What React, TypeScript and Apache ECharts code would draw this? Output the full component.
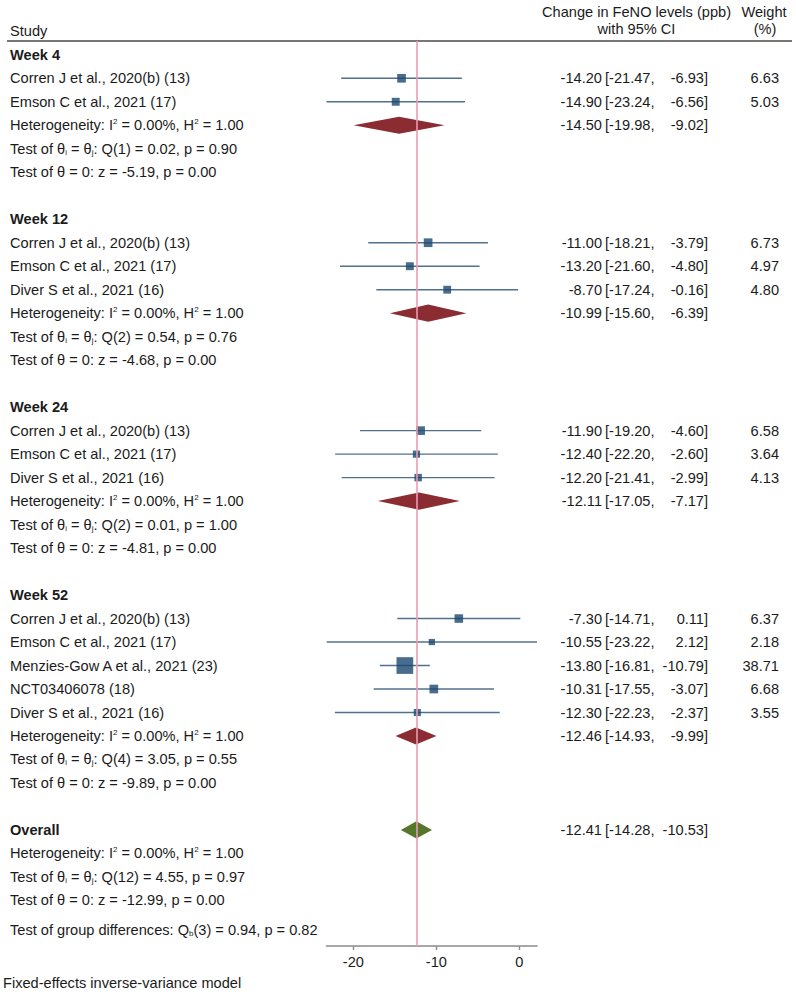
import React, { useEffect, useRef } from 'react';
import * as echarts from 'echarts';

// ---------- data ----------
const groupNames = ['Week 4', 'Week 12', 'Week 24', 'Week 52'];
const groupRows = [0, 7, 15, 23];

const studyNames = [
  'Corren J et al., 2020(b) (13)',
  'Emson C et al., 2021 (17)',
  'Corren J et al., 2020(b) (13)',
  'Emson C et al., 2021 (17)',
  'Diver S et al., 2021 (16)',
  'Corren J et al., 2020(b) (13)',
  'Emson C et al., 2021 (17)',
  'Diver S et al., 2021 (16)',
  'Corren J et al., 2020(b) (13)',
  'Emson C et al., 2021 (17)',
  'Menzies-Gow A et al., 2021 (23)',
  'NCT03406078 (18)',
  'Diver S et al., 2021 (16)',
];
const studyRows = [1, 2, 8, 9, 10, 16, 17, 18, 24, 25, 26, 27, 28];
const studyEst = [-14.2, -14.9, -11.0, -13.2, -8.7, -11.9, -12.4, -12.2, -7.3, -10.55, -13.8, -10.31, -12.3];
const studyLow = [-21.47, -23.24, -18.21, -21.6, -17.24, -19.2, -22.2, -21.41, -14.71, -23.22, -16.81, -17.55, -22.23];
const studyHigh = [-6.93, -6.56, -3.79, -4.8, -0.16, -4.6, -2.6, -2.99, 0.11, 2.12, -10.79, -3.07, -2.37];
const studyWeight = ['6.63', '5.03', '6.73', '4.97', '4.80', '6.58', '3.64', '4.13', '6.37', '2.18', '38.71', '6.68', '3.55'];

const pooledRows = [3, 11, 19, 29];
const pooledEst = [-14.5, -10.99, -12.11, -12.46];
const pooledLow = [-19.98, -15.6, -17.05, -14.93];
const pooledHigh = [-9.02, -6.39, -7.17, -9.99];

const overallLabel = 'Overall';
const overallRow = 33;
const overallEst = -12.41;
const overallLow = -14.28;
const overallHigh = -10.53;

// heterogeneity / test statistics: Week 4, 12, 24, 52, Overall
const hetRows = [3, 11, 19, 29, 34];
const hetI2 = ['0.00%', '0.00%', '0.00%', '0.00%', '0.00%'];
const hetH2 = ['1.00', '1.00', '1.00', '1.00', '1.00'];
const qDf = ['1', '2', '2', '4', '12'];
const qVal = ['0.02', '0.54', '0.01', '3.05', '4.55'];
const qP = ['0.90', '0.76', '1.00', '0.55', '0.97'];
const zVal = ['-5.19', '-4.68', '-4.81', '-9.89', '-12.99'];
const zP = ['0.00', '0.00', '0.00', '0.00', '0.00'];

const groupDiffRow = 37.26;
const groupDiffDf = '3';
const groupDiffQ = '0.94';
const groupDiffP = '0.82';

const xTicks = [-20, -10, 0];
const xMin = -23.24;
const xMax = 2.12;

// ---------- style ----------
const FONT = '"Liberation Sans", Arial, Helvetica, sans-serif';
const FS = 14.6;
const TEXT = '#1b1b1b';
const NAVY = '#1a476f';
const CI_COLOR = '#52708e';
const MAROON = '#8b2b32';
const GREEN = '#56762c';
const PINK = '#ec9cb0';

const RICH = {
  sup: { fontSize: 8, fontFamily: FONT, fill: TEXT, color: TEXT, verticalAlign: 'top' },
  sub: { fontSize: 8, fontFamily: FONT, fill: TEXT, color: TEXT, verticalAlign: 'bottom' },
};

type TextItem = { row: number; text: string; x: number; align: 'left' | 'right' | 'center'; bold?: boolean };

function fmt(v: number) {
  return v.toFixed(2);
}

const textItems: TextItem[] = [];
groupNames.forEach((g, i) => textItems.push({ row: groupRows[i], text: g, x: 10, align: 'left', bold: true }));
textItems.push({ row: overallRow, text: overallLabel, x: 10, align: 'left', bold: true });
studyNames.forEach((n, i) => textItems.push({ row: studyRows[i], text: n, x: 10, align: 'left' }));
hetRows.forEach((r, i) => {
  textItems.push({ row: r, text: `Heterogeneity: I{sup|2} = ${hetI2[i]}, H{sup|2} = ${hetH2[i]}`, x: 10, align: 'left' });
  textItems.push({ row: r + 1, text: `Test of θ{sub|i} = θ{sub|j}: Q(${qDf[i]}) = ${qVal[i]}, p = ${qP[i]}`, x: 10, align: 'left' });
  textItems.push({ row: r + 2, text: `Test of θ = 0: z = ${zVal[i]}, p = ${zP[i]}`, x: 10, align: 'left' });
});
textItems.push({
  row: groupDiffRow,
  text: `Test of group differences: Q{sub|b}(${groupDiffDf}) = ${groupDiffQ}, p = ${groupDiffP}`,
  x: 10,
  align: 'left',
});

function pushCI(row: number, est: number, lo: number, hi: number, w?: string) {
  textItems.push({ row, text: fmt(est), x: 602, align: 'right' });
  textItems.push({ row, text: `[${fmt(lo)},`, x: 605, align: 'left' });
  textItems.push({ row, text: `${fmt(hi)}]`, x: 708, align: 'right' });
  if (w) textItems.push({ row, text: w, x: 779, align: 'right' });
}
studyRows.forEach((r, i) => pushCI(r, studyEst[i], studyLow[i], studyHigh[i], studyWeight[i]));
pooledRows.forEach((r, i) => pushCI(r, pooledEst[i], pooledLow[i], pooledHigh[i]));
pushCI(overallRow, overallEst, overallLow, overallHigh);

export default function App() {
  const ref = useRef<HTMLDivElement>(null);
  useEffect(() => {
    if (!ref.current) return;
    const chart = echarts.init(ref.current, null, { renderer: 'svg' });

    const diamonds = [
      ...pooledRows.map((r, i) => [pooledLow[i], pooledEst[i], pooledHigh[i], r, 0]),
      [overallLow, overallEst, overallHigh, overallRow, 1],
    ];

    const option: any = {
      animation: false,
      backgroundColor: '#ffffff',
      grid: { left: 326.5, width: 210.5, top: 41, height: 905, containLabel: false },
      xAxis: {
        type: 'value',
        position: 'bottom',
        min: xMin,
        max: xMax,
        splitLine: { show: false },
        axisLine: { show: true, onZero: false, lineStyle: { color: '#8a8a8a', width: 1.6 } },
        axisTick: { show: true, length: 4, lineStyle: { color: '#8a8a8a', width: 1.4 }, customValues: xTicks },
        axisLabel: {
          show: true,
          customValues: xTicks,
          color: TEXT,
          fontFamily: FONT,
          fontSize: FS,
          margin: 8,
          formatter: (v: number) => String(v),
        },
      },
      yAxis: {
        type: 'value',
        inverse: true,
        min: -0.5875,
        max: 37.94,
        show: false,
      },
      series: [
        {
          type: 'custom',
          name: 'ci',
          z: 2,
          data: studyRows.map((r, i) => [studyLow[i], studyHigh[i], r]),
          encode: { x: [0, 1], y: 2 },
          renderItem: (params: any, api: any) => {
            const a = api.coord([api.value(0), api.value(2)]);
            const b = api.coord([api.value(1), api.value(2)]);
            return {
              type: 'line',
              shape: { x1: a[0], y1: a[1], x2: b[0], y2: b[1] },
              style: { stroke: CI_COLOR, lineWidth: 1.4 },
            };
          },
          markLine: {
            silent: true,
            symbol: 'none',
            label: { show: false },
            lineStyle: { color: PINK, width: 1.6, type: 'solid' },
            data: [{ xAxis: overallEst }],
          },
        },
        {
          type: 'scatter',
          name: 'studies',
          z: 4,
          symbol: 'rect',
          data: studyRows.map((r, i) => [studyEst[i], r, parseFloat(studyWeight[i])]),
          symbolSize: (v: number[]) => 3 + 2.2 * Math.sqrt(v[2]),
          itemStyle: { color: NAVY },
        },
        {
          type: 'custom',
          name: 'diamonds',
          z: 4,
          data: diamonds,
          encode: { x: [0, 1, 2], y: 3 },
          renderItem: (params: any, api: any) => {
            const row = api.value(3);
            const l = api.coord([api.value(0), row]);
            const m = api.coord([api.value(1), row]);
            const h = api.coord([api.value(2), row]);
            const hh = 8.6;
            return {
              type: 'polygon',
              shape: { points: [[l[0], l[1]], [m[0], m[1] - hh], [h[0], h[1]], [m[0], m[1] + hh]] },
              style: { fill: api.value(4) === 1 ? GREEN : MAROON },
            };
          },
        },
        {
          type: 'custom',
          name: 'texts',
          z: 5,
          data: textItems.map((t) => [-12, t.row]),
          encode: { x: 0, y: 1 },
          renderItem: (params: any, api: any) => {
            const it = textItems[params.dataIndex];
            const y = api.coord([-12, it.row])[1];
            return {
              type: 'text',
              x: it.x,
              y,
              style: {
                text: it.text,
                fill: TEXT,
                fontFamily: FONT,
                fontSize: FS,
                fontWeight: it.bold ? 'bold' : 'normal',
                align: it.align,
                verticalAlign: 'middle',
                rich: RICH,
              },
            };
          },
        },
      ],
      graphic: [
        {
          type: 'line',
          shape: { x1: 7, y1: 41, x2: 792, y2: 41 },
          style: { stroke: '#4a4a4a', lineWidth: 1.6 },
        },
        {
          type: 'text', x: 10, y: 31,
          style: { text: 'Study', fill: TEXT, fontFamily: FONT, fontSize: FS, align: 'left', verticalAlign: 'middle' },
        },
        {
          type: 'text', x: 636.5, y: 12,
          style: { text: 'Change in FeNO levels (ppb)', fill: TEXT, fontFamily: FONT, fontSize: FS, align: 'center', verticalAlign: 'middle' },
        },
        {
          type: 'text', x: 636.5, y: 29,
          style: { text: 'with 95% CI', fill: TEXT, fontFamily: FONT, fontSize: FS, align: 'center', verticalAlign: 'middle' },
        },
        {
          type: 'text', x: 764, y: 12,
          style: { text: 'Weight', fill: TEXT, fontFamily: FONT, fontSize: FS, align: 'center', verticalAlign: 'middle' },
        },
        {
          type: 'text', x: 765, y: 29,
          style: { text: '(%)', fill: TEXT, fontFamily: FONT, fontSize: FS, align: 'center', verticalAlign: 'middle' },
        },
        {
          type: 'text', x: 3, y: 983,
          style: { text: 'Fixed-effects inverse-variance model', fill: TEXT, fontFamily: FONT, fontSize: FS, align: 'left', verticalAlign: 'middle' },
        },
      ],
    };
    chart.setOption(option);
    return () => chart.dispose();
  }, []);

  return (
    <div
      ref={ref}
      style={{ position: 'fixed', left: 0, top: 0, width: 796, height: 992, background: '#fff' }}
    />
  );
}
